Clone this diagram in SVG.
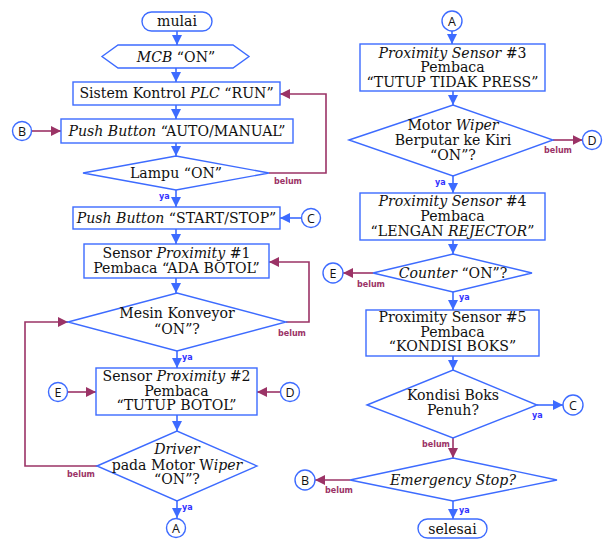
<svg xmlns="http://www.w3.org/2000/svg" width="603" height="540" viewBox="0 0 603 540">
<style>
.n{fill:#fff;stroke:#3d6bff;stroke-width:1.4}
.t{font-family:"DejaVu Serif","Liberation Serif",serif;font-size:14.1px;fill:#111;text-anchor:middle}
.i{font-style:italic}
.c{fill:#fff;stroke:#3d6bff;stroke-width:1.4}
.ct{font-family:"Open Sans","Noto Sans",sans-serif;font-size:12.5px;fill:#111;text-anchor:middle}
.b{fill:none;stroke:#3d6bff;stroke-width:1.6}
.p{fill:none;stroke:#9b3366;stroke-width:1.6}
.ya{font-family:"DejaVu Sans","Liberation Sans",sans-serif;font-size:8px;font-weight:bold;fill:#3333ff}
.bl{font-family:"DejaVu Sans","Liberation Sans",sans-serif;font-size:8px;font-weight:bold;fill:#9b3366}
</style>
<defs>
<marker id="ab" markerUnits="userSpaceOnUse" markerWidth="10" markerHeight="10" refX="10" refY="5" orient="auto"><path d="M0,0 L10,5 L0,10 z" fill="#3d6bff"/></marker>
<marker id="ap" markerUnits="userSpaceOnUse" markerWidth="10" markerHeight="10" refX="10" refY="5" orient="auto"><path d="M0,0 L10,5 L0,10 z" fill="#9b3366"/></marker>
</defs>

<g id="connectors">
<path class="b" marker-end="url(#ab)" d="M177,31 V45"/>
<path class="b" marker-end="url(#ab)" d="M176,68 V82"/>
<path class="b" marker-end="url(#ab)" d="M176,105 V119"/>
<path class="b" marker-end="url(#ab)" d="M176,143 V156"/>
<path class="b" marker-end="url(#ab)" d="M176,190 V207"/>
<path class="b" marker-end="url(#ab)" d="M176,229 V244"/>
<path class="b" marker-end="url(#ab)" d="M176,278 V293"/>
<path class="b" marker-end="url(#ab)" d="M177,351 V368"/>
<path class="b" marker-end="url(#ab)" d="M177,415 V431"/>
<path class="b" marker-end="url(#ab)" d="M177,501 V518"/>
<path class="b" marker-end="url(#ab)" d="M301.5,218 H280"/>
<path class="b" marker-end="url(#ab)" d="M452,31 V44"/>
<path class="b" marker-end="url(#ab)" d="M453,91 V105"/>
<path class="b" marker-end="url(#ab)" d="M453,176 V193"/>
<path class="b" marker-end="url(#ab)" d="M453,240 V254"/>
<path class="b" marker-end="url(#ab)" d="M453,292 V310"/>
<path class="b" marker-end="url(#ab)" d="M453,356 V370"/>
<path class="b" marker-end="url(#ab)" d="M537,405 H563"/>
<path class="b" marker-end="url(#ab)" d="M453,501 V519"/>
<path class="p" marker-end="url(#ap)" d="M31.5,131 H61"/>
<path class="p" marker-end="url(#ap)" d="M269,173 H326 V94 H280"/>
<path class="p" marker-end="url(#ap)" d="M286,322 H309 V262 H269"/>
<path class="p" marker-end="url(#ap)" d="M97,466 H25 V322 H68"/>
<path class="p" marker-end="url(#ap)" d="M67.5,392 H96"/>
<path class="p" marker-end="url(#ap)" d="M280.5,392 H257"/>
<path class="p" marker-end="url(#ap)" d="M553,140 H582.5"/>
<path class="p" marker-end="url(#ap)" d="M373,273 H343"/>
<path class="p" marker-end="url(#ap)" d="M453,438 V458"/>
<path class="p" marker-end="url(#ap)" d="M350,480 H315"/>
<text class="bl" x="274" y="184">belum</text>
<text class="ya" x="159" y="199">ya</text>
<text class="bl" x="278" y="336">belum</text>
<text class="ya" x="182" y="360">ya</text>
<text class="bl" x="67" y="477">belum</text>
<text class="ya" x="182" y="510">ya</text>
<text class="bl" x="544" y="153">belum</text>
<text class="ya" x="435" y="185">ya</text>
<text class="bl" x="357" y="287">belum</text>
<text class="ya" x="459" y="300">ya</text>
<text class="ya" x="532" y="418">ya</text>
<text class="bl" x="422" y="447">belum</text>
<text class="bl" x="325" y="493">belum</text>
<text class="ya" x="459" y="513">ya</text>
</g>

<g id="mulai"><rect class="n" x="142" y="12" width="70" height="19" rx="9.5"/><text class="t" x="177" y="26">mulai</text></g>
<g id="mcb"><polygon class="n" points="102,56.5 118,45 233,45 249,56.5 233,68 118,68"/><text class="t" x="176" y="61.5"><tspan class="i">MCB</tspan> “ON”</text></g>
<g id="plc"><rect class="n" x="73" y="82" width="207" height="23"/><text class="t" x="176.5" y="98">Sistem Kontrol <tspan class="i">PLC</tspan> “RUN”</text></g>
<g id="pb-auto"><rect class="n" x="61" y="119" width="232" height="24"/><text class="t" x="177" y="135.5"><tspan class="i">Push Button</tspan> “AUTO/MANUAL”</text></g>
<g id="lampu"><polygon class="n" points="83,173 176,156 269,173 176,190"/><text class="t" x="176" y="177.5">Lampu “ON”</text></g>
<g id="pb-start"><rect class="n" x="73" y="207" width="207" height="22"/><text class="t" x="176.5" y="222.5"><tspan class="i">Push Button</tspan> “START/STOP”</text></g>
<g id="sensor1"><rect class="n" x="84" y="244" width="185" height="34"/><text class="t" x="176.5" y="257.5">Sensor <tspan class="i">Proximity</tspan> #1</text><text class="t" x="176.5" y="272.5">Pembaca “ADA BOTOL”</text></g>
<g id="mesin"><polygon class="n" points="68,322 177,293 286,322 177,351"/><text class="t" x="177" y="318">Mesin Konveyor</text><text class="t" x="177" y="334">“ON”?</text></g>
<g id="sensor2"><rect class="n" x="96" y="368" width="161" height="47"/><text class="t" x="176.5" y="381">Sensor <tspan class="i">Proximity</tspan> #2</text><text class="t" x="176.5" y="395.5">Pembaca</text><text class="t" x="176.5" y="410">“TUTUP BOTOL”</text></g>
<g id="driver"><polygon class="n" points="97,466 177,431 257,466 177,501"/><text class="t i" x="177" y="454">Driver</text><text class="t" x="177" y="469.5">pada Motor W<tspan class="i">iper</tspan></text><text class="t" x="177" y="484">“ON”?</text></g>
<g id="conn-a1"><circle class="c" cx="176" cy="528" r="9.5"/><text class="ct" x="176" y="532.5">A</text></g>
<g id="conn-b1"><circle class="c" cx="22" cy="131" r="9.5"/><text class="ct" x="22" y="135.5">B</text></g>
<g id="conn-c1"><circle class="c" cx="311" cy="218" r="9.5"/><text class="ct" x="311" y="222.5">C</text></g>
<g id="conn-e1"><circle class="c" cx="58" cy="392" r="9.5"/><text class="ct" x="58" y="396.5">E</text></g>
<g id="conn-d1"><circle class="c" cx="290" cy="392" r="9.5"/><text class="ct" x="290" y="396.5">D</text></g>

<g id="conn-a2"><circle class="c" cx="452" cy="21" r="10"/><text class="ct" x="452" y="25.5">A</text></g>
<g id="sensor3"><rect class="n" x="360" y="44" width="185" height="47"/><text class="t" x="452.5" y="57.5"><tspan class="i">Proximity  Sensor</tspan> #3</text><text class="t" x="452.5" y="72">Pembaca</text><text class="t" x="452.5" y="86.5">“TUTUP TIDAK PRESS”</text></g>
<g id="wiper"><polygon class="n" points="349,140 453,105 553,140 453,176"/><text class="t" x="453" y="130">Motor <tspan class="i">Wiper</tspan></text><text class="t" x="453" y="145">Berputar ke Kiri</text><text class="t" x="453" y="159.5">“ON”?</text></g>
<g id="conn-d2"><circle class="c" cx="592" cy="140" r="9.5"/><text class="ct" x="592" y="144.5">D</text></g>
<g id="sensor4"><rect class="n" x="360" y="193" width="185" height="47"/><text class="t" x="452.5" y="206"><tspan class="i">Proximity Sensor</tspan> #4</text><text class="t" x="452.5" y="221">Pembaca</text><text class="t" x="452.5" y="235.5">“LENGAN <tspan class="i">REJECTOR</tspan>”</text></g>
<g id="counter"><polygon class="n" points="373,273 453,254 532,273 453,292"/><text class="t" x="453" y="277.5"><tspan class="i">Counter</tspan> “ON”?</text></g>
<g id="conn-e2"><circle class="c" cx="333" cy="273" r="10"/><text class="ct" x="333" y="277.5">E</text></g>
<g id="sensor5"><rect class="n" x="366" y="310" width="173" height="46"/><text class="t" x="452.5" y="322">Proximity Sensor #5</text><text class="t" x="452.5" y="336.5">Pembaca</text><text class="t" x="452.5" y="351">“KONDISI BOKS”</text></g>
<g id="kondisi"><polygon class="n" points="367,405 453,370 537,405 453,438"/><text class="t" x="453" y="400">Kondisi Boks</text><text class="t" x="453" y="415">Penuh?</text></g>
<g id="conn-c2"><circle class="c" cx="573" cy="405" r="10"/><text class="ct" x="573" y="409.5">C</text></g>
<g id="emergency"><polygon class="n" points="350,480 453,458 557,480 453,501"/><text class="t i" x="453" y="484.5">Emergency Stop?</text></g>
<g id="conn-b2"><circle class="c" cx="305" cy="480" r="10"/><text class="ct" x="305" y="484.5">B</text></g>
<g id="selesai"><rect class="n" x="418" y="519" width="69" height="19" rx="9.5"/><text class="t" x="452.5" y="533.5">selesai</text></g>
</svg>
